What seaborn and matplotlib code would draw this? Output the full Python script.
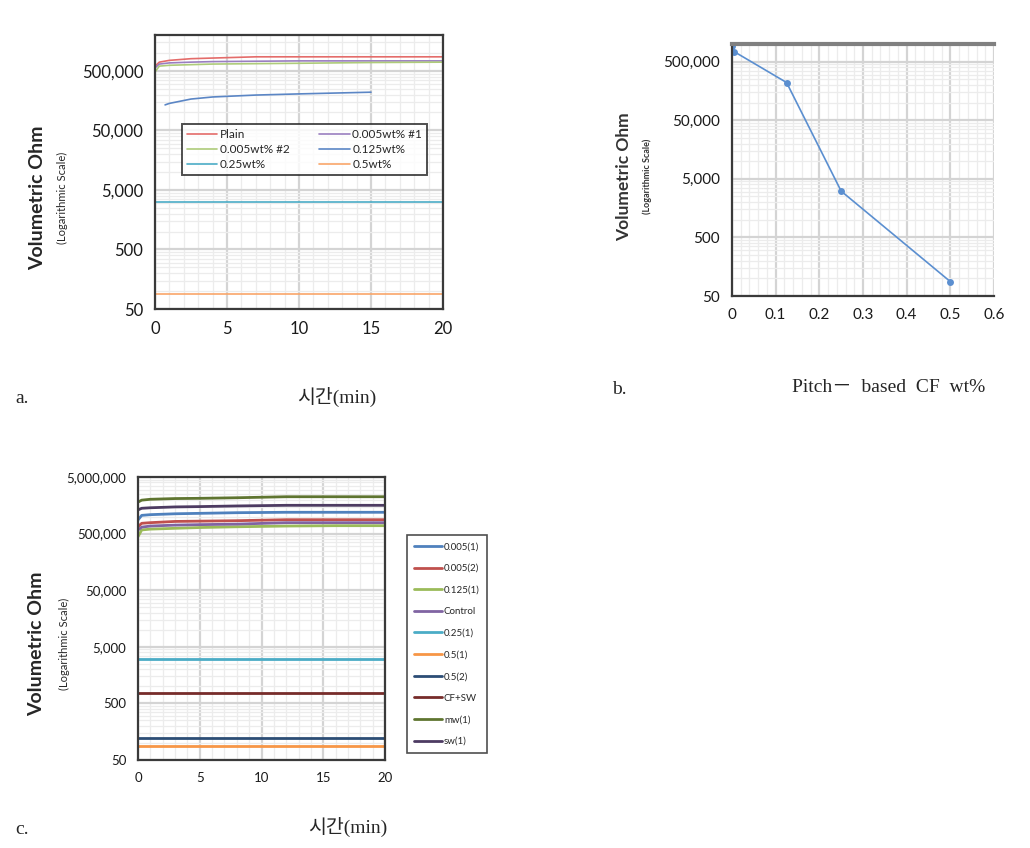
import numpy as np
import pandas as pd
import matplotlib
matplotlib.use("Agg")
import matplotlib.pyplot as plt
import matplotlib.ticker as mticker
import seaborn as sns

# ---- a. 시간(min) vs 체적저항 ----
a_time = [0, 0.3, 1, 2.5, 4, 7, 10, 15, 20]
a_plain = [600000, 700000, 750000, 800000, 820000, 860000, 860000, 860000, 860000]
a_005_1 = [560000, 650000, 680000, 700000, 715000, 725000, 735000, 735000, 735000]
a_005_2 = [480000, 600000, 620000, 635000, 650000, 660000, 670000, 690000, 700000]
a_0125_time = [0.7, 1, 2.5, 4, 7, 10, 15]
a_0125 = [134000, 142000, 168000, 182000, 196000, 205000, 219000]
a_025 = [3150] * len(a_time)
a_05 = [89] * len(a_time)
a_labels = ['Plain', '0.005wt% #1', '0.005wt% #2', '0.125wt%', '0.25wt%', '0.5wt%']
a_colors = ['#E46C6A', '#9A7FC0', '#AECB7A', '#5B86C5', '#4BACC6', '#F9A66A']

# ---- b. Pitch-based CF wt% ----
b_wt = [0, 0.005, 0.125, 0.25, 0.5]
b_ohm = [920000, 740000, 220000, 3080, 88]

# ---- c. 시간(min) vs 체적저항 ----
c_time = [0, 0.3, 1, 3, 5, 8, 12, 16, 20]
c_005_1 = [870000, 1050000, 1080000, 1120000, 1140000, 1170000, 1190000, 1190000, 1190000]
c_005_2 = [662000, 760000, 780000, 820000, 830000, 845000, 880000, 880000, 880000]
c_0125_1 = [441000, 580000, 600000, 620000, 640000, 660000, 680000, 690000, 690000]
c_control = [580000, 650000, 680000, 706000, 720000, 735000, 780000, 780000, 780000]
c_025_1 = [3000] * len(c_time)
c_05_1 = [87] * len(c_time)
c_05_2 = [122] * len(c_time)
c_cfsw = [773] * len(c_time)
c_mw_1 = [1800000, 1950000, 2020000, 2080000, 2100000, 2150000, 2240000, 2240000, 2240000]
c_sw_1 = [1310000, 1400000, 1430000, 1480000, 1500000, 1540000, 1580000, 1580000, 1580000]
c_labels = ['0.005(1)', '0.005(2)', '0.125(1)', 'Control', '0.25(1)',
            '0.5(1)', '0.5(2)', 'CF+SW', 'mw(1)', 'sw(1)']
c_colors = ['#4F81BD', '#C0504D', '#9BBB59', '#8064A2', '#4BACC6',
            '#F79646', '#2C4D75', '#772C2A', '#5F7530', '#4D3B62']

sns.set_style("white")
plt.rcParams['font.family'] = ['Lato', 'DejaVu Sans']

fig = plt.figure(figsize=(10.3, 8.48), dpi=100)
W, H = 1030, 848


def box(l, t, r, b):
    return [l / W, 1 - b / H, (r - l) / W, (b - t) / H]


def log_minors(lo, hi):
    # 엑셀식 보조 눈금: 50, 500 ... 기준 배수
    out = []
    base = lo
    while base < hi:
        out += [base * k for k in range(2, 10)]
        base *= 10
    return [v for v in out if v < hi]


def style_axis(ax, ymin, ymax, yticks, xmajor, xminor, tick_fs):
    ax.set_yscale('log')
    ax.set_ylim(ymin, ymax)
    ax.yaxis.set_major_locator(mticker.FixedLocator(yticks))
    ax.yaxis.set_major_formatter(mticker.FuncFormatter(lambda v, p: f'{v:,.0f}'))
    ax.yaxis.set_minor_locator(mticker.FixedLocator(log_minors(ymin, ymax)))
    ax.yaxis.set_minor_formatter(mticker.NullFormatter())
    ax.xaxis.set_major_locator(mticker.MultipleLocator(xmajor))
    ax.xaxis.set_minor_locator(mticker.MultipleLocator(xminor))
    ax.grid(True, which='major', color='#d4d4d4', lw=1.6)
    ax.grid(True, which='minor', color='#ececec', lw=0.9)
    for s in ax.spines.values():
        s.set_color('#3a3a3a')
        s.set_linewidth(1.6)
    ax.tick_params(axis='both', which='major', direction='out', length=5,
                   width=1.2, color='#3a3a3a', labelsize=tick_fs, labelcolor='#1a1a1a')
    ax.tick_params(axis='both', which='minor', length=0)
    ax.set_xlabel('')
    ax.set_ylabel('')


def ylabels(x_main, x_sub, yc, fs_main, fs_sub):
    fig.text(x_main / W, 1 - yc / H, 'Volumetric Ohm', rotation=90, ha='center',
             va='center', fontsize=fs_main, fontweight='bold')
    fig.text(x_sub / W, 1 - yc / H, '(Logarithmic Scale)', rotation=90, ha='center',
             va='center', fontsize=fs_sub)


yticks = [50, 500, 5000, 50000, 500000, 5000000]

# ---- panel a ----
ax_a = fig.add_axes(box(155, 35, 443, 309))
a_series = [a_plain, a_005_1, a_005_2, a_0125, a_025, a_05]
a_frames = []
for lab, vals in zip(a_labels, a_series):
    t = a_0125_time if lab == '0.125wt%' else a_time
    a_frames.append(pd.DataFrame({'time': t, 'ohm': vals, 'sample': lab}))
df_a = pd.concat(a_frames, ignore_index=True)
sns.lineplot(data=df_a, x='time', y='ohm', hue='sample', hue_order=a_labels,
             palette=a_colors, linewidth=1.2, ax=ax_a, estimator=None, sort=False)
style_axis(ax_a, 50, 2000000, yticks, 5, 1, 12)
ax_a.set_xlim(0, 20)
# 엑셀 범례처럼 가로 순서로 채우기
h, l = ax_a.get_legend_handles_labels()
order = [0, 2, 4, 1, 3, 5]
leg_a = ax_a.legend([h[i] for i in order], [l[i] for i in order],
                    loc='upper left', bbox_to_anchor=(0.094, 0.675), ncol=2,
                    fontsize=8.5, frameon=True, fancybox=False, edgecolor='#222222',
                    handlelength=2.6, columnspacing=2.5, handletextpad=0.2,
                    labelspacing=0.35, borderpad=0.4, borderaxespad=0)
leg_a.get_frame().set_linewidth(1.4)
ylabels(38, 62, 198, 14, 8)

# ---- panel b ----
ax_b = fig.add_axes(box(732, 44, 994, 296))
df_b = pd.DataFrame({'wt': b_wt, 'ohm': b_ohm})
sns.lineplot(data=df_b, x='wt', y='ohm', color='#5B8FD0', linewidth=1.2,
             marker='o', markersize=5, markeredgewidth=0, ax=ax_b, sort=False)
style_axis(ax_b, 50, 1000000, yticks, 0.1, 0.02, 11)
ax_b.set_xlim(0, 0.6)
ax_b.xaxis.set_major_formatter(mticker.FuncFormatter(lambda v, p: f'{v:g}'))
ax_b.spines['top'].set_color('#808080')
ax_b.spines['top'].set_linewidth(3)
ax_b.spines['right'].set_visible(False)
fig.text(624 / W, 1 - 177 / H, 'Volumetric Ohm', rotation=90, ha='center',
         va='center', fontsize=12.5, fontweight='bold', color='#333333')
fig.text(647 / W, 1 - 176 / H, '(Logarithmic Scale)', rotation=90, ha='center',
         va='center', fontsize=6.5, fontweight='bold', color='#333333')

# ---- panel c ----
ax_c = fig.add_axes(box(138, 477, 385, 760))
c_series = [c_005_1, c_005_2, c_0125_1, c_control, c_025_1,
            c_05_1, c_05_2, c_cfsw, c_mw_1, c_sw_1]
df_c = pd.concat([pd.DataFrame({'time': c_time, 'ohm': v, 'sample': lab})
                  for lab, v in zip(c_labels, c_series)], ignore_index=True)
sns.lineplot(data=df_c, x='time', y='ohm', hue='sample', hue_order=c_labels,
             palette=c_colors, linewidth=2.0, ax=ax_c, estimator=None, sort=False)
style_axis(ax_c, 50, 5000000, yticks, 5, 1, 9.5)
ax_c.set_xlim(0, 20)
leg_c = ax_c.legend(loc='upper left', bbox_to_anchor=(1.089, 0.795), fontsize=7,
                    frameon=True, fancybox=False, edgecolor='#222222', handlelength=2.9,
                    handletextpad=0.15, labelspacing=1.3, borderpad=0.75,
                    borderaxespad=0)
leg_c.get_frame().set_linewidth(1.2)
ylabels(37, 64, 644, 14, 8)

# ---- captions ----
serif = ['Liberation Serif', 'Noto Sans CJK KR', 'DejaVu Serif']
fig.text(15 / W, 1 - 399 / H, 'a.', fontsize=14, family=serif, va='center')
fig.text(337 / W, 1 - 397 / H, '시간(min)', fontsize=14, family=serif,
         ha='center', va='center')
fig.text(612 / W, 1 - 389 / H, 'b.', fontsize=14, family=serif, va='center')
fig.text(889 / W, 1 - 388 / H, 'Pitch\uff0d  based  CF  wt%', fontsize=14,
         family=serif, ha='center', va='center')
fig.text(15 / W, 1 - 829 / H, 'c.', fontsize=14, family=serif, va='center')
fig.text(348 / W, 1 - 827 / H, '시간(min)', fontsize=14, family=serif,
         ha='center', va='center')

fig.savefig('out.png', dpi=100)
